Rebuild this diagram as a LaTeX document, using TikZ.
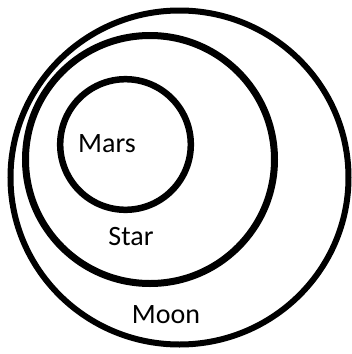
\documentclass[tikz,border=0pt]{standalone}
\usepackage{fontspec}
\setmainfont{Carlito}
\begin{document}
\begin{tikzpicture}[x=1pt,y=-1pt,
  ring/.style={draw=black,line width=6pt},
  lbl/.style={anchor=base,inner sep=0pt,font=\fontsize{28}{34}\selectfont,text=black}]
\useasboundingbox (0,0) rectangle (352,354);
\draw[ring] (179.5,177.5) ellipse [x radius=169, y radius=167];
\draw[ring,line width=7pt] (150,159.5) ellipse [x radius=124.5, y radius=124];
\draw[ring,line width=6.5pt] (125.5,144.5) circle [radius=65.3];
\node[lbl] (mars) at (107,152) {Mars};
\node[lbl] (star) at (131,245) {Star};
\node[lbl] (moon) at (166,323) {Moon};
\end{tikzpicture}
\end{document}
